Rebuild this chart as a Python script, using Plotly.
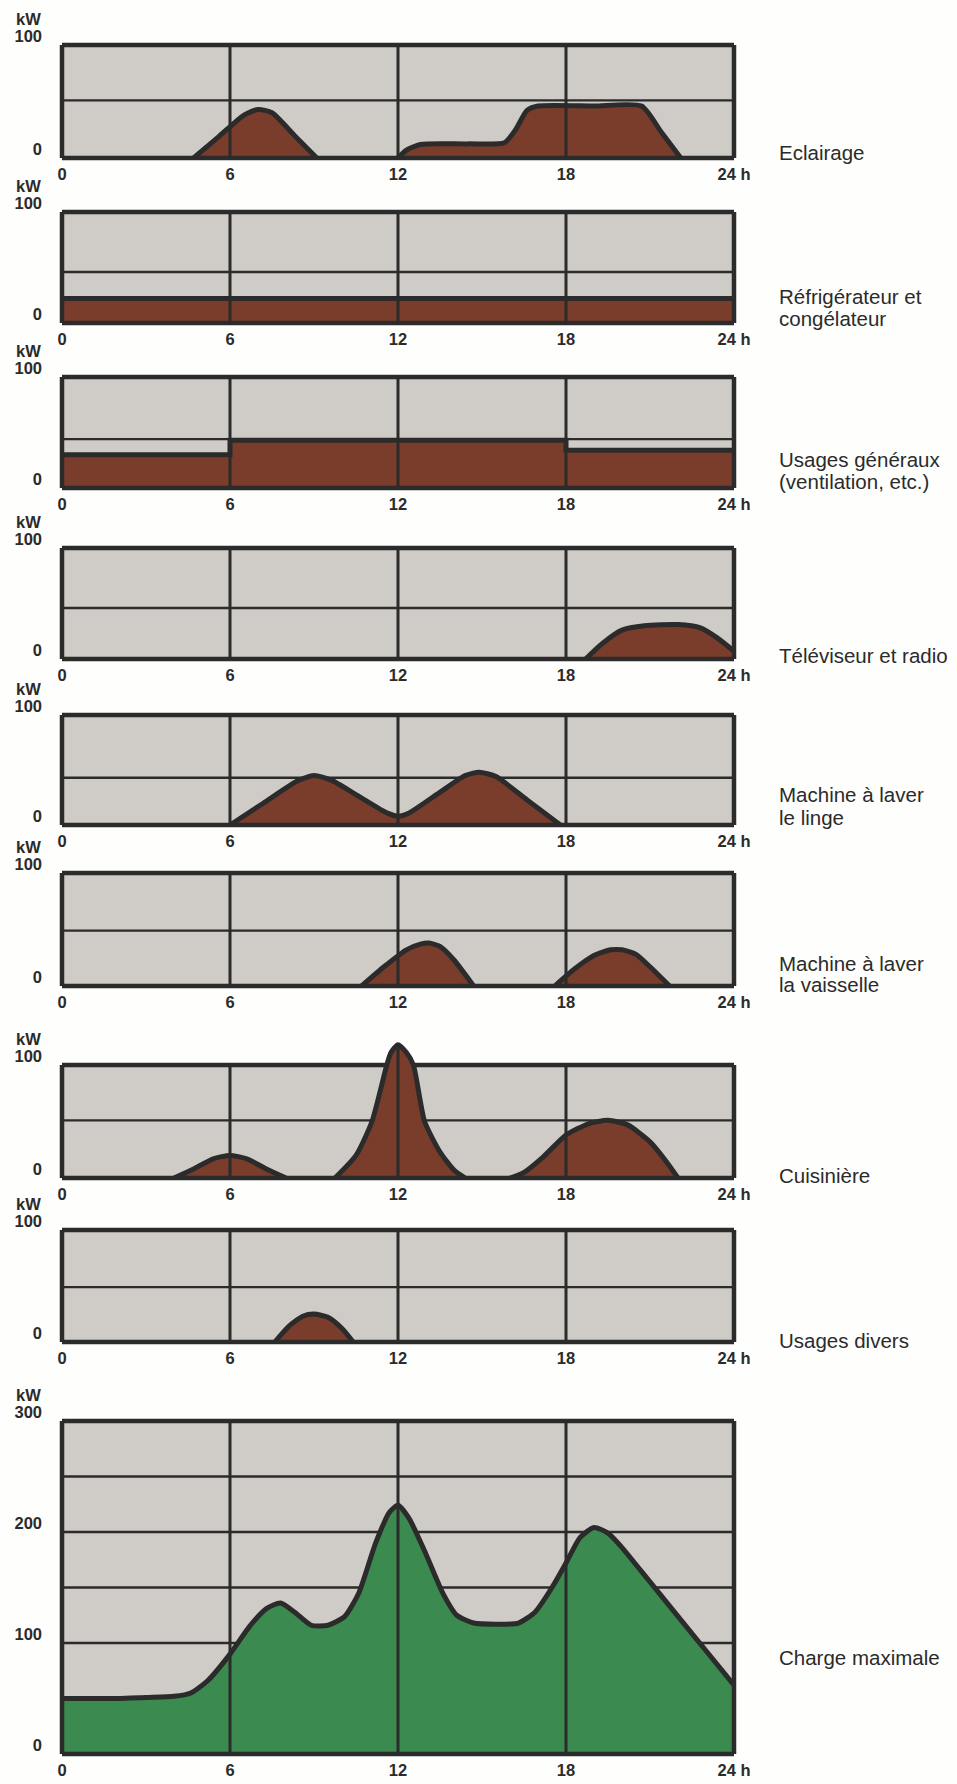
import numpy as np
import plotly.graph_objects as go

# ---------------- data ----------------
hour_ticks = [0, 6, 12, 18, 24]
hour_labels = ["0", "6", "12", "18", "24 h"]

eclairage_h = [4.7, 5.6, 6.5, 7.0, 7.5, 8.3, 9.1, None,
               12.0, 12.3, 12.8, 14.5, 15.8, 16.2, 16.6, 17.0, 19.0, 20.7, 21.4, 22.1]
eclairage_kw = [0, 19, 38, 43, 40, 20, 0, None,
                0, 7, 12, 12.5, 13.5, 25, 42, 46, 46, 46, 23, 0]

frigo_h = [0, 24]
frigo_kw = [22, 22]

usages_h = [0, 6, 18, 24]
usages_kw = [30, 43, 34, 34]

tv_h = [18.7, 19.3, 20.0, 20.8, 22.0, 22.8, 23.4, 24.0]
tv_kw = [0, 14, 26, 30, 31, 28, 19, 7]

linge_h = [6.0, 7.2, 8.4, 9.0, 9.6, 10.6, 11.6, 12.0, 12.4, 13.4, 14.4, 14.9, 15.5, 16.6, 17.8]
linge_kw = [0, 20, 40, 45, 41, 26, 11, 8, 11, 28, 45, 48, 44, 23, 0]

vaisselle_h = [10.7, 11.5, 12.3, 12.8, 13.1, 13.5, 14.0, 14.7, None,
               17.6, 18.3, 19.0, 19.6, 20.0, 20.5, 21.0, 21.7]
vaisselle_kw = [0, 17, 32, 37, 38, 35, 23, 0, None,
                0, 15, 27, 32, 32, 28, 17, 0]

cuisiniere_h = [4.0, 4.7, 5.4, 6.0, 6.6, 7.3, 8.0, None,
                9.75, 10.5, 11.07, 11.6, 11.75, 12.0, 12.3, 12.55, 12.95, 13.5, 14.0, 14.4, None,
                16.0, 16.5, 17.2, 18.0, 18.8, 19.5, 20.2, 21.0, 21.6, 22.0]
cuisiniere_kw = [0, 8, 17, 20, 17, 8, 0, None,
                 0, 20, 50, 100, 111, 118, 111, 100, 50, 23, 7, 0, None,
                 0, 5, 19, 38, 48, 51, 47, 32, 14, 0]

divers_h = [7.6, 8.1, 8.6, 9.0, 9.5, 10.0, 10.4]
divers_kw = [0, 14, 23, 25, 22, 12, 0]

charge_h = [0, 1, 2, 3, 4, 4.6, 5.2, 6.0, 6.7, 7.3, 7.8, 8.3, 8.9, 9.5, 10.1, 10.6,
            11.2, 11.7, 12.0, 12.4, 13.0, 13.6, 14.1, 14.7, 15.5, 16.3, 16.9, 17.5,
            18.0, 18.5, 19.0, 19.5, 20.0, 21.0, 22.0, 23.0, 24.0]
charge_kw = [50, 50, 50, 51, 52, 55, 66, 90, 115, 131, 136, 128, 116, 116, 124, 145,
             190, 218, 224, 212, 180, 145, 125, 118, 117, 118, 128, 150,
             172, 195, 204, 199, 186, 155, 124, 93, 62]

labels = [["Eclairage"], ["Réfrigérateur et", "congélateur"],
          ["Usages généraux", "(ventilation, etc.)"], ["Téléviseur et radio"],
          ["Machine à laver", "le linge"], ["Machine à laver", "la vaisselle"],
          ["Cuisinière"], ["Usages divers"], ["Charge maximale"]]

series = [(eclairage_h, eclairage_kw), (frigo_h, frigo_kw), (usages_h, usages_kw),
          (tv_h, tv_kw), (linge_h, linge_kw), (vaisselle_h, vaisselle_kw),
          (cuisiniere_h, cuisiniere_kw), (divers_h, divers_kw), (charge_h, charge_kw)]

small_ticks = [0, 100]
small_ticklabels = ["0", "100"]
big_ticks = [0, 100, 200, 300]
big_ticklabels = ["0", "100", "200", "300"]
mid_lines = [51, 46, 44, 46, 43, 49, 51, 49]
big_grid = [50, 100, 150, 200, 250]

# ---------------- layout / style ----------------
W, H = 957, 1784
FONT = "Liberation Sans, Arial, Helvetica, sans-serif"
INK = "#2b2b2b"
GRAY = "#cfcbc6"
BROWN = "#7b3d2b"
GREEN = "#3b8a4f"
PAPER = "#fefefc"

# pixel positions of each panel frame (top line, bottom line)
box_px = [(45, 158), (212, 323), (377, 488), (548, 659), (715, 825),
          (873, 986), (1065, 1178), (1230, 1342), (1421, 1754)]
label_px = [[152], [297, 318], [460, 482], [655], [795, 817], [963, 985],
            [1175], [1340], [1657]]
X_LEFT, X_RIGHT = 62, 734
LABEL_X = 777
PAD_PX = 4
line_kind = ["spline", "linear", "hv", "spline", "spline", "spline", "spline", "spline", "spline"]


def px_x(p):
    return p / W


def px_y(p):
    return 1 - p / H


fig = go.Figure()
shapes = []
annotations = []
ppx = (X_RIGHT - X_LEFT) / 24.0
xlo, xhi = -PAD_PX / ppx, 24 + PAD_PX / ppx
xdom = [px_x(X_LEFT + xlo * ppx), px_x(X_LEFT + xhi * ppx)]

for i in range(9):
    k = i + 1
    xa = "x" if k == 1 else f"x{k}"
    ya = "y" if k == 1 else f"y{k}"
    top, bot = box_px[i]
    big = (i == 8)
    ymax = 300 if big else 100
    ppu = (bot - top) / ymax
    ylo = -PAD_PX / ppu
    yhi = ymax + (25 if i == 6 else PAD_PX / ppu)
    dom = [px_y(bot - ylo * ppu), px_y(bot - yhi * ppu)]

    fig.layout[("xaxis" if k == 1 else f"xaxis{k}")] = dict(
        domain=xdom, range=[xlo, xhi], anchor=ya, showgrid=False, zeroline=False,
        showline=False, ticks="", tickvals=hour_ticks, ticktext=hour_labels,
        tickfont=dict(family=FONT, size=16.5, color=INK, weight="bold"),
        ticklabelstandoff=0, automargin=False, fixedrange=True)
    fig.layout[("yaxis" if k == 1 else f"yaxis{k}")] = dict(
        domain=dom, range=[ylo, yhi], anchor=xa, showgrid=False, zeroline=False,
        showline=False, ticks="",
        tickvals=big_ticks if big else small_ticks,
        ticktext=big_ticklabels if big else small_ticklabels,
        tickfont=dict(family=FONT, size=16.5, color=INK, weight="bold"),
        ticklabelshift=-9, ticklabelstandoff=15, automargin=False, fixedrange=True)

    # background and the lines lying under the curve
    shapes.append(dict(type="rect", xref=xa, yref=ya, x0=0, x1=24, y0=0, y1=ymax,
                       fillcolor=GRAY, line=dict(width=0), layer="below"))
    grid = big_grid if big else [mid_lines[i]]
    for g in grid:
        shapes.append(dict(type="line", xref=xa, yref=ya, x0=0, x1=24, y0=g, y1=g,
                           line=dict(color=INK, width=2.4), layer="below"))
    shapes.append(dict(type="line", xref=xa, yref=ya, x0=0, x1=24, y0=ymax, y1=ymax,
                       line=dict(color=INK, width=4.5), layer="below"))

    hx, hy = series[i]
    fig.add_trace(go.Scatter(
        x=hx, y=hy, mode="lines", xaxis=xa, yaxis=ya,
        line=dict(color=INK, width=5, shape=line_kind[i], smoothing=0.6),
        fill="tozeroy", fillcolor=GREEN if big else BROWN,
        connectgaps=False, hoverinfo="skip", showlegend=False))

    # hour lines and frame drawn over the curve
    cx = np.array([a for a in hx if a is not None], dtype=float)
    cy = np.array([b for b in hy if b is not None], dtype=float)
    for xv in hour_ticks[1:-1]:
        ytop = max(ymax, float(np.interp(xv, cx, cy, left=0, right=0)))
        shapes.append(dict(type="line", xref=xa, yref=ya, x0=xv, x1=xv, y0=0, y1=ytop,
                           line=dict(color=INK, width=3), layer="above"))
    for (x0, y0, x1, y1) in [(0, 0, 0, ymax), (24, 0, 24, ymax), (0, 0, 24, 0)]:
        shapes.append(dict(type="line", xref=xa, yref=ya, x0=x0, x1=x1, y0=y0, y1=y1,
                           line=dict(color=INK, width=4.5), layer="above"))

    annotations.append(dict(text="kW", xref="paper", yref=ya, x=px_x(14), y=ymax,
                            xanchor="left", yanchor="middle", yshift=26, showarrow=False,
                            font=dict(family=FONT, size=16.5, color=INK, weight="bold")))
    for line_text, ypx in zip(labels[i], label_px[i]):
        annotations.append(dict(text=line_text, xref="paper", yref="paper",
                                x=px_x(LABEL_X), y=px_y(ypx), xanchor="left",
                                yanchor="middle", showarrow=False,
                                font=dict(family=FONT, size=20.5, color=INK)))

fig.update_layout(width=W, height=H, margin=dict(l=0, r=0, t=0, b=0, autoexpand=False),
                  paper_bgcolor=PAPER, plot_bgcolor="rgba(0,0,0,0)",
                  shapes=shapes, annotations=annotations, showlegend=False)

fig.write_html("out.html", config={"displayModeBar": False},
               post_script="document.documentElement.style.margin='0';document.body.style.margin='0';document.body.style.overflow='hidden';")
